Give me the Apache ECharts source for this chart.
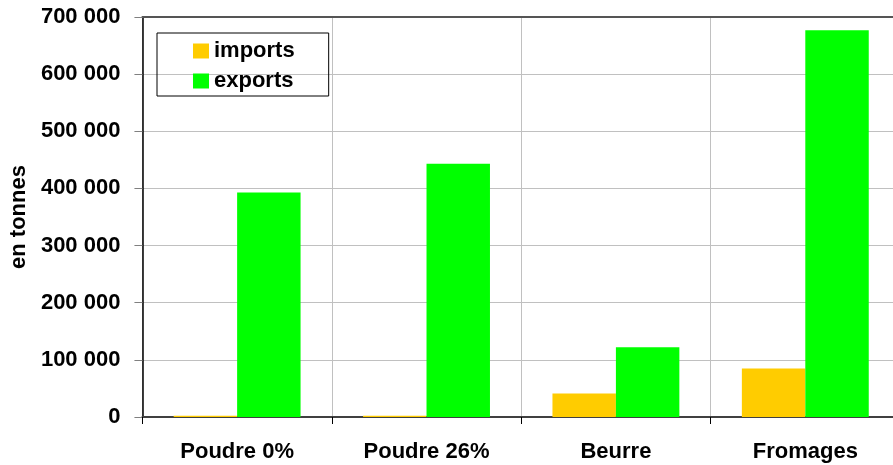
<!DOCTYPE html>
<html lang="fr">
<head>
	<meta charset="UTF-8">
	<title>imports / exports</title>
	<style>
		html, body { margin: 0; padding: 0; background: #fff; overflow: hidden; }
	</style>
</head>
<body>
	<!-- le graphique d'origine est coupé à droite : conteneur un peu plus large que la fenêtre -->
	<div id="chart" style="width: 900px;height:465px;"></div>
	<script src="https://cdn.jsdelivr.net/npm/echarts@6/dist/echarts.min.js"></script>
	<script>
		// données
		var categories = ['Poudre 0%', 'Poudre 26%', 'Beurre', 'Fromages'];
		var imports = [2000, 2000, 41000, 85000];
		var exports = [393000, 443000, 122000, 677000];
		var yTicks = [0, 100000, 200000, 300000, 400000, 500000, 600000, 700000];

		var font = 'Liberation Sans, Arial, sans-serif';

		var myChart = echarts.init(document.getElementById('chart'));

		var option = {
			animation: false,
			textStyle: { fontFamily: font },
			grid: { left: 142, right: 0, top: 17, bottom: 48 },
			legend: {
				orient: 'vertical',
				left: 157,
				top: 33,
				data: ['imports', 'exports'],
				icon: 'rect',
				itemWidth: 16,
				itemHeight: 15,
				itemGap: 8,
				padding: [7, 34, 4, 36],
				borderColor: '#000',
				borderWidth: 1,
				textStyle: { fontSize: 22, fontWeight: 'bold', color: '#000' }
			},
			xAxis: [{
				type: 'category',
				data: categories,
				axisLine: { lineStyle: { color: '#404040', width: 2 } },
				axisTick: { show: true, length: 7, lineStyle: { color: '#000' } },
				axisLabel: { fontSize: 22, fontWeight: 'bold', color: '#000', margin: 24 },
				splitLine: { show: true, lineStyle: { color: '#c0c0c0', width: 1 } }
			}, {
				type: 'category',
				position: 'top',
				data: categories,
				axisLine: { show: true, lineStyle: { color: '#555', width: 2 } },
				axisTick: { show: false },
				axisLabel: { show: false }
			}],
			yAxis: {
				type: 'value',
				min: yTicks[0],
				max: yTicks[yTicks.length - 1],
				interval: 100000,
				name: 'en tonnes',
				nameLocation: 'middle',
				nameRotate: 90,
				nameGap: 106,
				nameTextStyle: { fontSize: 22, fontWeight: 'bold', color: '#000' },
				axisLine: { show: true, lineStyle: { color: '#000', width: 1.5 } },
				axisTick: { show: true, length: 8, lineStyle: { color: '#808080' } },
				axisLabel: {
					fontSize: 22, fontWeight: 'bold', color: '#000', margin: 22,
					formatter: function (v) {
						return String(v).replace(/\B(?=(\d{3})+(?!\d))/g, ' ');
					}
				},
				splitLine: { show: true, lineStyle: { color: '#c0c0c0', width: 1 } }
			},
			series: [{
				name: 'imports',
				type: 'bar',
				data: imports,
				barWidth: '33.5%',
				barGap: '0%',
				itemStyle: { color: '#FFCC00' }
			}, {
				name: 'exports',
				type: 'bar',
				data: exports,
				barWidth: '33.5%',
				barGap: '0%',
				itemStyle: { color: '#00FF00' }
			}]
		};

		myChart.setOption(option);
	</script>
</body>
</html>
